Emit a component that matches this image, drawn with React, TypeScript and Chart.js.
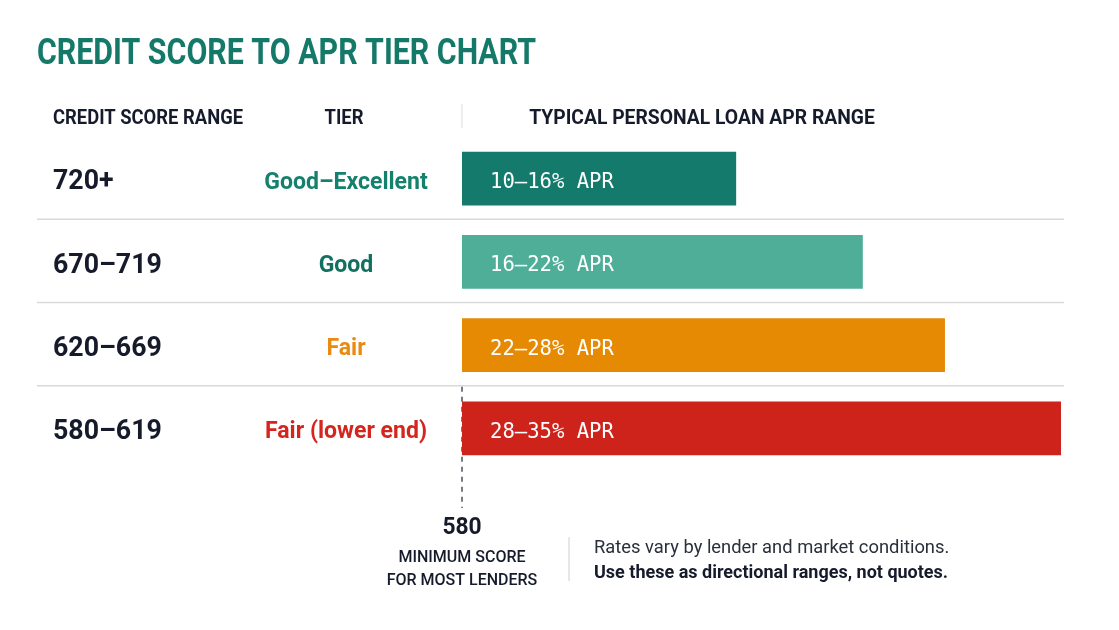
import React, { useEffect, useRef } from "react";
import { Chart, registerables } from "chart.js";

Chart.register(...registerables);

const scoreRanges = ["720+", "670–719", "620–669", "580–619"];
const tiers = ["Good–Excellent", "Good", "Fair", "Fair (lower end)"];
const aprLabels = ["10–16% APR", "16–22% APR", "22–28% APR", "28–35% APR"];
// bar lengths as drawn in the reference, in APR % units
const barLengths = [16, 23.4, 28.2, 35];
const barColors = ["#137a6c", "#4fae98", "#e68a04", "#cd231b"];
const tierColors = ["#14806d", "#13705f", "#e98b10", "#d3261e"];
const minScore = "580";

const COND = "Roboto, 'Noto Sans', sans-serif";

function txt(ctx: CanvasRenderingContext2D, s: string, x: number, y: number, font: string, color: string, align: CanvasTextAlign = "left", sx = 1) {
  ctx.save();
  ctx.font = font;
  ctx.fillStyle = color;
  ctx.textAlign = align;
  ctx.textBaseline = "middle";
  ctx.translate(x, y);
  ctx.scale(sx, 1);
  ctx.fillText(s, 0, 0);
  ctx.restore();
}

const decor = {
  id: "decor",
  beforeDatasetsDraw(chart: any) {
    const { ctx, scales } = chart;
    const ys = scales.y;
    const xs = scales.x;
    const x0 = xs.getPixelForValue(0);
    ctx.save();
    // row separators
    ctx.strokeStyle = "#d9d9d9";
    ctx.lineWidth = 1.5;
    for (let i = 0; i < scoreRanges.length - 1; i++) {
      const yb = (ys.getPixelForValue(i) + ys.getPixelForValue(i + 1)) / 2 - 1;
      ctx.beginPath();
      ctx.moveTo(37, yb);
      ctx.lineTo(1064, yb);
      ctx.stroke();
    }
    // header divider
    ctx.strokeStyle = "#dcdcdc";
    ctx.lineWidth = 1;
    ctx.beginPath();
    ctx.moveTo(x0, 104);
    ctx.lineTo(x0, 128);
    ctx.stroke();
    // dashed min score line
    const last = scoreRanges.length - 1;
    const ySep = (ys.getPixelForValue(last) + ys.getPixelForValue(last - 1)) / 2;
    ctx.strokeStyle = "#1f2430";
    ctx.lineWidth = 1.2;
    ctx.setLineDash([5, 5]);
    ctx.beginPath();
    ctx.moveTo(x0, ySep);
    ctx.lineTo(x0, 508);
    ctx.stroke();
    ctx.setLineDash([]);
    ctx.restore();
  },
  afterDatasetsDraw(chart: any) {
    const { ctx, scales } = chart;
    const ys = scales.y;
    const xs = scales.x;
    const x0 = xs.getPixelForValue(0);
    const dark = "#161b2c";
    // title
    txt(ctx, "CREDIT SCORE TO APR TIER CHART", 37, 55, `bold 37px ${COND}`, "#15796a", "left", 0.82);
    // headers
    txt(ctx, "CREDIT SCORE RANGE", 53, 119, `bold 20px ${COND}`, dark, "left", 0.92);
    txt(ctx, "TIER", 344, 119, `bold 20px ${COND}`, dark, "center", 0.92);
    txt(ctx, "TYPICAL PERSONAL LOAN APR RANGE", 702, 119, `bold 20px ${COND}`, dark, "center", 0.965);
    for (let i = 0; i < scoreRanges.length; i++) {
      const y = ys.getPixelForValue(i);
      txt(ctx, scoreRanges[i], 53, y + 4, `bold 27px ${COND}`, dark, "left", 0.99);
      txt(ctx, tiers[i], 346, y + 4, `bold 24px ${COND}`, tierColors[i], "center", 0.96);
      txt(ctx, aprLabels[i], x0 + 28, y + 4, `500 21px 'DejaVu Sans Mono', monospace`, "#ffffff", "left", 0.98);
    }
    // min score annotation
    txt(ctx, minScore, x0, 528, `bold 24px ${COND}`, dark, "center", 0.95);
    txt(ctx, "MINIMUM SCORE", x0, 558, `500 16px ${COND}`, dark, "center", 1.0);
    txt(ctx, "FOR MOST LENDERS", x0, 581, `500 16px ${COND}`, dark, "center", 1.0);
    // footnote
    ctx.save();
    ctx.strokeStyle = "#cfcfcf";
    ctx.lineWidth = 1;
    ctx.beginPath();
    ctx.moveTo(569, 537);
    ctx.lineTo(569, 581);
    ctx.stroke();
    ctx.restore();
    txt(ctx, "Rates vary by lender and market conditions.", 594, 548, `18px ${COND}`, "#2a2f3a", "left", 1.02);
    txt(ctx, "Use these as directional ranges, not quotes.", 594, 573, `bold 18px ${COND}`, dark, "left", 1.0);
  },
};

export default function App() {
  const ref = useRef<HTMLCanvasElement>(null);
  useEffect(() => {
    if (!ref.current) return;
    const chart = new Chart(ref.current, {
      type: "bar",
      data: {
        labels: scoreRanges,
        datasets: [
          {
            data: barLengths,
            backgroundColor: barColors,
            borderWidth: 0,
            barThickness: 53,
          },
        ],
      },
      options: {
        indexAxis: "y",
        responsive: false,
        animation: false,
        devicePixelRatio: 1,
        layout: { padding: { left: 462, right: 58, top: 137, bottom: 160 } },
        plugins: { legend: { display: false }, tooltip: { enabled: false }, title: { display: false } },
        scales: {
          x: { display: false, min: 0, max: 35 },
          y: { display: false },
        },
      },
      plugins: [decor],
    });
    return () => chart.destroy();
  }, []);
  return (
    <div style={{ position: "fixed", left: 0, top: 0, width: 1119, height: 630, background: "#ffffff" }}>
      <canvas ref={ref} width={1119} height={630} style={{ width: 1119, height: 630, display: "block" }} />
    </div>
  );
}
